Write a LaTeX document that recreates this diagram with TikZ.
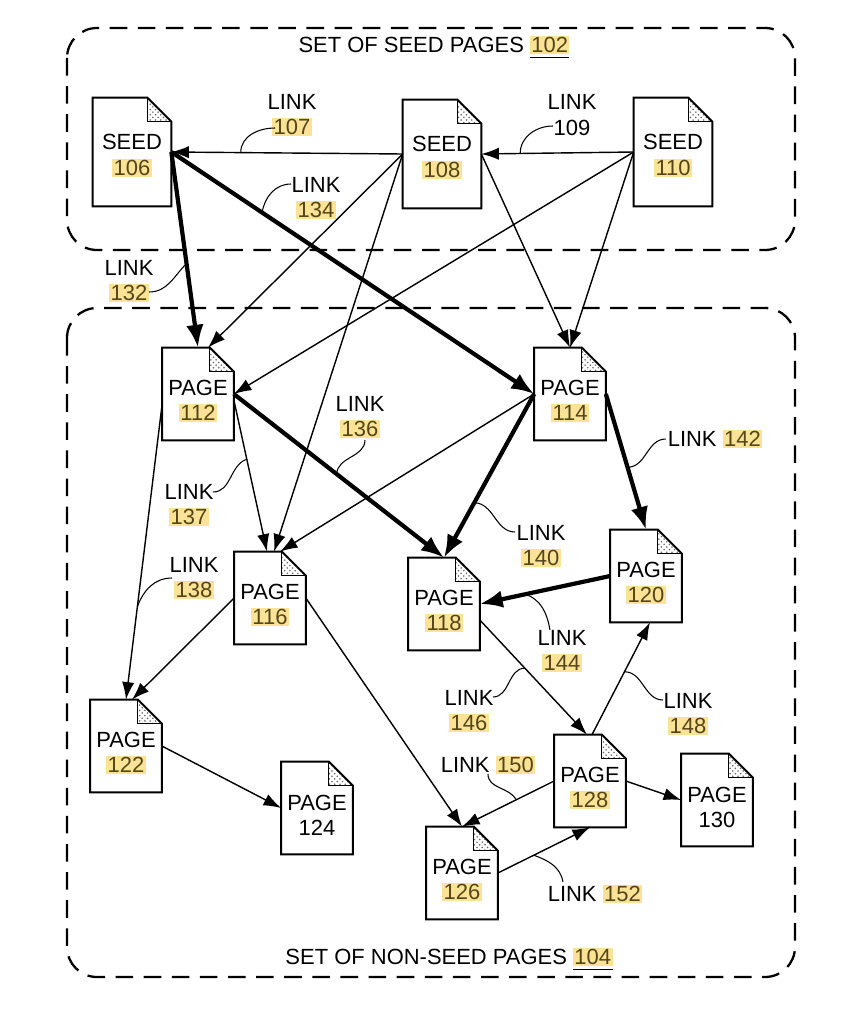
\documentclass[tikz,border=0pt]{standalone}
\usepackage{fontspec}
\setmainfont{Liberation Sans}
\usetikzlibrary{positioning,calc,arrows.meta,patterns}
\definecolor{numyellow}{RGB}{250,226,150}
\definecolor{numtext}{RGB}{85,70,25}
\newcommand{\hlnum}[1]{{\setlength{\fboxsep}{0.8pt}\colorbox{numyellow}{\textcolor{numtext}{#1}}}}
\newcommand{\earsize}{0.48cm}
\newcommand{\pagestrut}{\rule{0pt}{17pt}}
\newcommand{\seedstrut}{\rule{0pt}{13pt}}
\newcommand{\docpage}[4]{\node[#3] (#1) at (#2) {#4};
					\fill[pattern=crosshatch dots, pattern color=black!60] ([xshift=-\earsize]#1.north east) -- ([xshift=-\earsize,yshift=-\earsize]#1.north east) -- ([yshift=-\earsize]#1.north east) -- cycle;
					\draw[line width=0.5pt] ([xshift=-\earsize]#1.north east) |- ([yshift=-\earsize]#1.north east);
					\draw[pageline] (#1.north west) -- ([xshift=-\earsize]#1.north east) -- ([yshift=-\earsize]#1.north east) -- (#1.south east) -- (#1.south west) -- cycle;}

\begin{document}
\begin{tikzpicture}[x=0.02cm, y=-0.02cm,
		pagebox/.style={minimum width=1.42cm, minimum height=1.84cm, inner sep=0pt, align=center, font=\fontsize{12.5}{14.5}\selectfont},
		seedbox/.style={pagebox, minimum width=1.56cm, minimum height=2.16cm},
		pageline/.style={line width=1.1pt, line join=miter},
		setbox/.style={dash pattern=on 10pt off 6pt, line width=1.3pt, rounded corners=0.6cm},
		settitle/.style={inner sep=1pt, font=\fontsize{12.5}{14.5}\selectfont},
		linklabel/.style={inner sep=1pt, align=center, font=\fontsize{12.5}{14.5}\selectfont},
		link/.style={line width=0.8pt, -{Latex[length=10pt,width=7pt]}},
		biglink/.style={line width=2.4pt, -{Latex[length=13pt,width=10pt]}},
		leaderline/.style={line width=0.6pt}]

					\useasboundingbox (0,0) rectangle (855,1024);

					% the two sets
					\draw[setbox] (67,28) rectangle (795,250);
					\draw[setbox] (67,308) rectangle (795,977);
					\node[settitle] (seedtitle) at (434,47) {SET OF SEED PAGES \underline{\hlnum{102}}};
					\node[settitle] (nonseedtitle) at (449,959) {SET OF NON-SEED PAGES \underline{\hlnum{104}}};

					% pages
					\docpage{s106}{132,152}{seedbox}{\seedstrut SEED\\\hlnum{106}}
					\docpage{s108}{442,154}{seedbox}{\seedstrut SEED\\\hlnum{108}}
					\docpage{s110}{673,152}{seedbox}{\seedstrut SEED\\\hlnum{110}}
					\docpage{p112}{198,394}{pagebox}{\pagestrut PAGE\\\hlnum{112}}
					\docpage{p114}{570,394}{pagebox}{\pagestrut PAGE\\\hlnum{114}}
					\docpage{p116}{270,598}{pagebox}{\pagestrut PAGE\\\hlnum{116}}
					\docpage{p118}{444,604}{pagebox}{\pagestrut PAGE\\\hlnum{118}}
					\docpage{p120}{646,576}{pagebox}{\pagestrut PAGE\\\hlnum{120}}
					\docpage{p122}{126,746}{pagebox}{\pagestrut PAGE\\\hlnum{122}}
					\docpage{p124}{317,808}{pagebox}{\pagestrut PAGE\\124}
					\docpage{p126}{462,873}{pagebox}{\pagestrut PAGE\\\hlnum{126}}
					\docpage{p128}{590,781}{pagebox}{\pagestrut PAGE\\\hlnum{128}}
					\docpage{p130}{717,800}{pagebox}{\pagestrut PAGE\\130}

					% links
					\draw[link] (s108.west) -- coordinate[pos=0.70] (c107) (s106.east);
					\draw[link] (s110.west) -- coordinate[pos=0.745] (c109) (s108.east);
					\draw[biglink] (s106.east) -- coordinate[pos=0.25] (c134) (p114.west);
					\draw[biglink] (s106.east) -- coordinate[pos=0.57] (c132) (p112.north);
					\draw[link] (s108.west) -- ($(p112.north)+(10,0)$);
					\draw[link] (s110.west) -- (p112.east);
					\draw[link] (s108.west) -- ($(p116.north)+(4,0)$);
					\draw[link] (s108.east) -- (p114.north);
					\draw[link] (s110.west) -- (p114.north);
					\draw[biglink] (p112.east) -- coordinate[pos=0.49] (c136) (p118.north);
					\draw[link] ($(p112.east)+(0,6)$) -- coordinate[pos=0.39] (c137) ($(p116.north)+(-3,0)$);
					\draw[link] ($(p112.west)+(0,10)$) -- coordinate[pos=0.686] (c138) (p122.north);
					\draw[link] (p114.west) -- ($(p116.north)+(10,0)$);
					\draw[biglink] (p114.west) -- coordinate[pos=0.665] (c140) (p118.north);
					\draw[biglink] (p114.east) -- coordinate[pos=0.54] (c142) (p120.north);
					\draw[biglink] (p120.west) -- coordinate[pos=0.65] (c144) (p118.east);
					\draw[link] ($(p118.east)+(0,16)$) -- coordinate[pos=0.42] (c146) ($(p128.north)+(-3,0)$);
					\draw[link] ($(p128.north)+(2,0)$) -- coordinate[pos=0.56] (c148) ($(p120.south)+(4,0)$);
					\draw[link] (p128.west) -- coordinate[pos=0.41] (c150) (p126.north);
					\draw[link] (p126.east) -- coordinate[pos=0.39] (c152) (p128.south);
					\draw[link] (p128.east) -- (p130.west);
					\draw[link] (p116.west) -- ($(p122.north)+(6,0)$);
					\draw[link] (p116.east) -- (p126.north);
					\draw[link] (p122.east) -- (p124.west);

					% link labels
					\node[linklabel] (l107) at (292,115) {LINK\\\hlnum{107}};
					\node[linklabel] (l109) at (572,115) {LINK\\109};
					\node[linklabel] (l134) at (316,198) {LINK\\\hlnum{134}};
					\node[linklabel] (l132) at (129,281) {LINK\\\hlnum{132}};
					\node[linklabel] (l136) at (360,417) {LINK\\\hlnum{136}};
					\node[linklabel] (l137) at (189,505) {LINK\\\hlnum{137}};
					\node[linklabel] (l138) at (194,578) {LINK\\\hlnum{138}};
					\node[linklabel] (l140) at (541,546) {LINK\\\hlnum{140}};
					\node[linklabel] (l142) at (715,439) {LINK \hlnum{142}};
					\node[linklabel] (l144) at (562,651) {LINK\\\hlnum{144}};
					\node[linklabel] (l146) at (469,711) {LINK\\\hlnum{146}};
					\node[linklabel] (l148) at (688,714) {LINK\\\hlnum{148}};
					\node[linklabel] (l150) at (488,765) {LINK \hlnum{150}};
					\node[linklabel] (l152) at (595,894) {LINK \hlnum{152}};

					% leaders
					\draw[leaderline] ($(l107)+(-17,13)$) to[out=180,in=90] (c107);
					\draw[leaderline] ($(l109)+(-19,11)$) to[out=180,in=90] (c109);
					\draw[leaderline] ($(l134)+(-25,-14)$) to[out=180,in=80] (c134);
					\draw[leaderline] ($(l132)+(20,11)$) to[out=0,in=225] (c132);
					\draw[leaderline] ($(l136)+(5,23)$) to[out=-90,in=90] (c136);
					\draw[leaderline] ($(l137)+(24,-13)$) to[out=0,in=200] (c137);
					\draw[leaderline] ($(l138)+(-22,0)$) to[out=180,in=70] (c138);
					\draw[leaderline] ($(l140)+(-26,-14)$) to[out=180,in=0] (c140);
					\draw[leaderline] (l142.west) to[out=180,in=0] (c142);
					\draw[leaderline] ($(l144)+(-12,-21)$) to[out=100,in=-20] (c144);
					\draw[leaderline] ($(l146)+(24,-14)$) to[out=0,in=180] (c146);
					\draw[leaderline] ($(l148)+(-25,-14)$) to[out=180,in=0] (c148);
					\draw[leaderline] ($(l150)+(0,9)$) to[out=-90,in=120] (c150);
					\draw[leaderline] ($(l152)+(-32,-12)$) to[out=100,in=-20] (c152);

\end{tikzpicture}
\end{document}
